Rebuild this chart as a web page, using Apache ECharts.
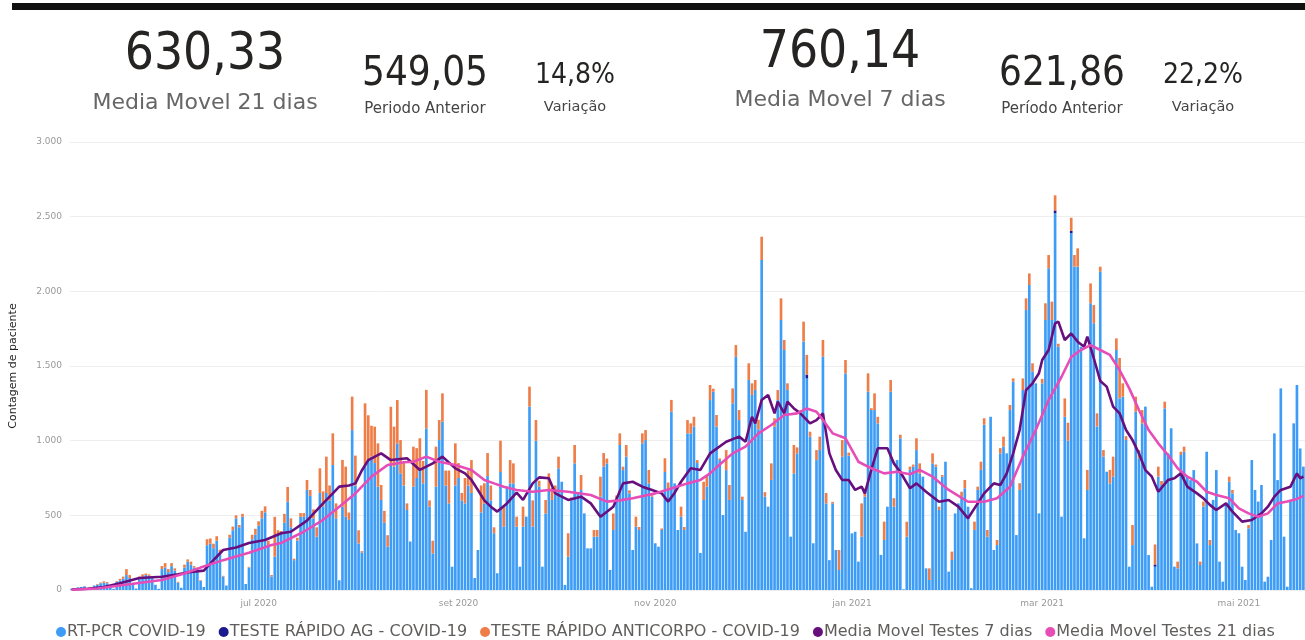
<!DOCTYPE html>
<html>
<head>
    <meta charset="UTF-8">
    <title>testes covid</title>
    <script src="https://cdn.jsdelivr.net/npm/echarts@6/dist/echarts.min.js"></script>
    <style>
        *{margin:0;padding:0}
        html,body{width:100%;height:100%;background:#fff}
        #main{width:1305px;height:640px}
    </style>
</head>
<body>
<div id="main"></div>
<script type="text/javascript">
// primeiro dia da serie (segunda-feira)
var startDate = '2020-05-04';

// RT-PCR por dia, uma linha por semana (seg..dom)
var rtpcr = [
    8,12,18,20,25,10,3,
    30,35,45,50,45,20,8,
    55,65,75,100,80,35,10,
    80,90,100,95,85,35,8,
    140,150,120,160,130,50,15,
    150,190,170,150,140,60,20,
    300,310,280,330,250,90,30,
    350,400,480,420,490,40,150,
    340,370,430,480,520,300,90,
    223,370,375,450,591,420,200,
    330,490,490,670,630,480,357,
    650,560,650,600,837,480,65,
    558,490,469,1071,700,312,250,
    826,870,893,850,692,603,450,
    290,848,826,982,781,700,536,
    325,692,750,804,714,1082,558,
    245,692,1004,1127,700,580,156,
    700,750,600,580,700,650,80,
    268,520,580,763,600,380,112,
    790,424,692,714,714,424,156,
    424,491,1228,424,1000,692,156,
    513,670,603,640,815,725,34,
    223,600,848,647,670,513,279,
    279,357,357,625,826,848,134,
    402,603,971,803,893,647,268,
    424,402,982,1004,714,625,313,
    290,402,790,670,1195,714,402,
    491,402,1049,1049,1094,850,248,
    603,692,1272,1328,1094,870,502,
    803,603,1250,1562,1138,603,390,
    1406,1306,1340,1076,2210,625,558,
    737,1094,1272,1808,1607,1340,357,
    781,915,1183,1664,1417,1027,313,
    870,937,1562,580,200,580,268,
    134,893,1450,900,379,390,190,
    357,625,1328,1205,1205,1116,235,
    335,558,1328,558,870,1016,5,
    357,804,826,937,781,759,145,
    67,848,826,536,759,859,123,
    201,513,580,625,681,558,12,
    402,670,804,1107,357,1160,268,
    301,915,960,915,1205,1395,368,
    670,1339,1875,2042,1462,1384,513,
    1384,1808,2154,1808,2522,1629,491,
    1160,1000,2389,2165,2165,1629,346,
    670,1920,1786,1094,2132,893,792,
    714,759,1607,1283,1295,1004,156,
    301,1194,882,1116,1228,234,22,
    156,759,703,1216,915,1083,156,
    145,904,926,759,736,803,312,
    168,558,926,301,603,803,190,
    56,580,725,647,402,380,156,
    67,413,870,670,592,703,56,
    89,335,1049,736,1350,357,22,
    603,1116,1373,948,826
];

// teste rapido anticorpo por dia
var anticorpo = [
    0,0,0,0,0,0,0,
    0,5,5,8,8,0,0,
    5,10,15,40,20,5,0,
    10,15,10,10,5,0,0,
    20,30,20,20,15,5,0,
    20,15,20,10,10,5,0,
    40,35,30,30,20,5,0,
    20,25,20,15,20,0,5,
    30,40,30,50,40,30,10,
    267,30,20,60,99,60,10,
    20,25,25,67,40,60,63,
    165,100,243,100,212,100,0,
    313,336,50,224,200,88,10,
    424,300,207,244,290,100,80,
    77,379,268,290,223,150,44,
    0,268,200,212,150,258,42,
    85,268,134,190,100,220,0,
    282,100,50,170,100,220,0,
    0,180,135,154,100,40,0,
    210,134,0,156,134,67,0,
    134,0,134,176,138,40,0,
    90,111,80,60,78,0,0,
    157,20,123,0,100,0,0,
    0,45,45,134,91,32,0,
    111,30,78,23,78,20,0,
    67,20,67,67,90,10,0,
    0,10,92,50,78,0,0,
    67,20,89,67,66,20,0,
    122,78,101,20,78,11,0,
    134,100,100,78,67,22,0,
    112,78,66,64,156,30,0,
    111,56,67,145,67,44,0,
    190,40,20,133,133,33,0,
    67,90,112,70,0,10,0,
    134,111,90,20,0,0,0,
    223,55,123,12,112,44,0,
    123,0,78,57,0,24,0,
    100,22,14,79,67,0,0,
    78,67,14,22,11,0,0,
    56,0,0,33,56,0,0,
    56,22,55,43,45,0,0,
    34,35,67,0,34,22,0,
    45,78,78,78,56,0,0,
    30,112,89,123,101,20,0,
    123,120,89,78,123,0,0,
    134,133,122,89,33,44,0,
    90,134,78,271,89,26,0,
    134,101,55,89,0,0,0,
    134,67,27,45,0,0,0,
    45,22,34,0,0,0,0,
    22,34,0,34,0,0,0,
    0,0,34,23,0,0,0,
    0,22,0,0,0,0,0,
    0,0,0,0,0,0,0,
    0,0,0,0,0
];

// teste rapido AG: poucos dias com valor
var agDays = [228, 305, 310, 336];
var agValues = [25, 20, 15, 15];

// medias moveis: [dia, valor]
var media7 = [[0,3],[5,8],[10,20],[15,45],[21,80],[28,89],[33,105],[37,120],[41,130],[44,200],[47,268],[51,285],[55,315],[60,335],[65,380],[68,390],[73,465],[78,580],[81,647],[83,692],[86,700],[88,714],[90,800],[92,870],[96,915],[99,870],[104,882],[108,804],[112,848],[115,893],[119,815],[122,781],[124,737],[126,670],[128,600],[130,558],[132,525],[135,580],[138,652],[140,603],[143,714],[145,754],[148,748],[150,647],[154,603],[158,625],[161,580],[164,491],[168,558],[171,714],[174,725],[177,692],[180,670],[183,647],[185,592],[187,650],[189,725],[192,815],[195,804],[198,915],[203,993],[207,1027],[209,993],[211,1160],[212,1116],[214,1272],[216,1306],[218,1183],[219,1261],[221,1183],[222,1261],[224,1216],[226,1183],[229,1116],[231,1138],[233,1183],[235,915],[237,804],[239,737],[241,737],[243,670],[245,692],[246,647],[248,804],[250,949],[253,949],[255,848],[257,790],[260,681],[262,714],[265,658],[269,591],[272,603],[275,558],[278,480],[281,580],[283,647],[286,714],[288,703],[290,781],[292,915],[294,1071],[296,1339],[298,1384],[300,1451],[301,1540],[303,1607],[305,1786],[306,1797],[308,1674],[310,1718],[312,1663],[314,1629],[315,1696],[317,1552],[319,1400],[321,1362],[323,1228],[325,1183],[327,1071],[329,1004],[331,915],[333,803],[335,759],[337,658],[340,736],[342,748],[344,781],[346,692],[349,647],[351,614],[353,570],[355,536],[358,580],[360,525],[363,458],[366,469],[369,513],[371,558],[373,625],[375,670],[378,692],[380,781],[381,748],[382,760]];
var media21 = [[0,2],[8,10],[15,30],[22,50],[28,67],[35,110],[40,150],[47,200],[55,250],[62,301],[65,315],[72,390],[78,470],[83,558],[88,647],[93,759],[98,837],[103,855],[106,859],[110,893],[114,859],[119,837],[124,804],[128,737],[131,714],[134,692],[138,670],[143,658],[148,670],[154,658],[161,636],[166,592],[170,600],[174,614],[181,647],[186,680],[191,714],[195,737],[198,781],[201,840],[205,915],[209,960],[213,1049],[217,1105],[221,1172],[225,1183],[228,1216],[231,1194],[233,1138],[236,1049],[240,1016],[244,859],[248,815],[252,781],[256,792],[260,775],[263,804],[267,759],[272,670],[278,591],[283,591],[287,614],[291,692],[295,893],[299,1071],[303,1272],[307,1428],[310,1560],[313,1607],[316,1640],[319,1607],[322,1574],[325,1473],[328,1350],[331,1205],[334,1071],[337,982],[340,904],[343,815],[346,759],[349,725],[352,658],[355,636],[359,614],[362,547],[365,513],[368,491],[371,513],[374,580],[377,592],[380,610],[382,630]];

// rotulos do eixo x
var tickDates = ['2020-07-01','2020-09-01','2020-11-01','2021-01-01','2021-03-01','2021-05-01'];
var tickLabels = ['jul 2020','set 2020','nov 2020','jan 2021','mar 2021','mai 2021'];

// cartoes do topo
var kpiValues = ['630,33','549,05','14,8%','760,14','621,86','22,2%'];
var kpiNames = ['Media Movel 21 dias','Periodo Anterior','Variação','Media Movel 7 dias','Período Anterior','Variação'];

var seriesNames = ['RT-PCR COVID-19','TESTE RÁPIDO AG - COVID-19','TESTE RÁPIDO ANTICORPO - COVID-19','Media Movel Testes 7 dias','Media Movel Testes 21 dias'];

// datas
var dias = [];
var t0 = Date.UTC(2020, 4, 4);
for (var i = 0; i < rtpcr.length; i++) {
    dias.push(new Date(t0 + i * 86400000).toISOString().slice(0, 10));
}
var agData = dias.map(function () { return 0; });
agDays.forEach(function (d, k) { agData[d] = agValues[k]; });

var bigFont = '"DejaVu Sans Condensed", "Liberation Sans Narrow", "Roboto", sans-serif';
var labelFont = '"DejaVu Sans", sans-serif';

function txt(x, y, s, size, color, font) {
    return {type: 'text', x: x, y: y, style: {text: s, fontSize: size, fill: color, fontFamily: font, align: 'center'}};
}

var myChart = echarts.init(document.getElementById('main'));
var option = {
    animation: false,
    textStyle: {fontFamily: labelFont},
    graphic: [
        {type: 'rect', left: 12, top: 3, shape: {width: 1293, height: 7}, style: {fill: '#111'}},
        txt(205, 30, kpiValues[0], 51, '#252423', bigFont),
        txt(205, 92, kpiNames[0], 22, '#666666', labelFont),
        txt(425, 55, kpiValues[1], 40, '#252423', bigFont),
        txt(425, 102, kpiNames[1], 15, '#444444', labelFont),
        txt(575, 62, kpiValues[2], 28, '#252423', bigFont),
        txt(575, 100, kpiNames[2], 14.5, '#444444', labelFont),
        txt(840, 28, kpiValues[3], 51, '#252423', bigFont),
        txt(840, 89, kpiNames[3], 22, '#666666', labelFont),
        txt(1062, 55, kpiValues[4], 40, '#252423', bigFont),
        txt(1062, 102, kpiNames[4], 15, '#444444', labelFont),
        txt(1203, 62, kpiValues[5], 28, '#252423', bigFont),
        txt(1203, 100, kpiNames[5], 14.5, '#444444', labelFont)
    ],
    legend: {
        top: 619,
        left: 51,
        icon: 'circle',
        itemWidth: 10,
        itemHeight: 10,
        itemGap: 13,
        textStyle: {fontSize: 16, color: '#605e5c', fontFamily: labelFont, padding: [0, 0, 0, -4]},
        data: seriesNames
    },
    grid: {left: 66, right: 0, top: 142, bottom: 50},
    xAxis: {
        type: 'category',
        data: dias,
        axisLine: {show: false},
        axisTick: {show: false},
        axisLabel: {
            color: '#999',
            fontSize: 9,
            margin: 9,
            interval: function (idx, val) { return tickDates.indexOf(val) >= 0; },
            formatter: function (val) {
                var k = tickDates.indexOf(val);
                return k >= 0 ? tickLabels[k] : '';
            }
        }
    },
    yAxis: {
        type: 'value',
        min: 0,
        max: 3000,
        interval: 500,
        name: 'Contagem de paciente',
        nameLocation: 'middle',
        nameGap: 51,
        nameTextStyle: {fontSize: 11, color: '#252423'},
        axisLabel: {
            color: '#999',
            fontSize: 9,
            margin: 8,
            formatter: function (v) { return String(v).replace(/\B(?=(\d{3})+(?!\d))/g, '.'); }
        },
        splitLine: {lineStyle: {color: '#eeeeee'}}
    },
    series: [
        {
            name: seriesNames[0], type: 'bar', stack: 'testes', data: rtpcr,
            barCategoryGap: '18%', itemStyle: {color: '#3d9cf6'}
        },
        {
            name: seriesNames[1], type: 'bar', stack: 'testes', data: agData,
            itemStyle: {color: '#1b1b8f'}
        },
        {
            name: seriesNames[2], type: 'bar', stack: 'testes', data: anticorpo,
            itemStyle: {color: '#ee7d47'}
        },
        {
            name: seriesNames[3], type: 'line', data: media7, showSymbol: false,
            lineStyle: {width: 2.6, color: '#680f7e'}, itemStyle: {color: '#680f7e'}, z: 5
        },
        {
            name: seriesNames[4], type: 'line', data: media21, showSymbol: false,
            lineStyle: {width: 2.6, color: '#e64db7'}, itemStyle: {color: '#e64db7'}, z: 5
        }
    ]
};
myChart.setOption(option);
</script>
</body>
</html>
